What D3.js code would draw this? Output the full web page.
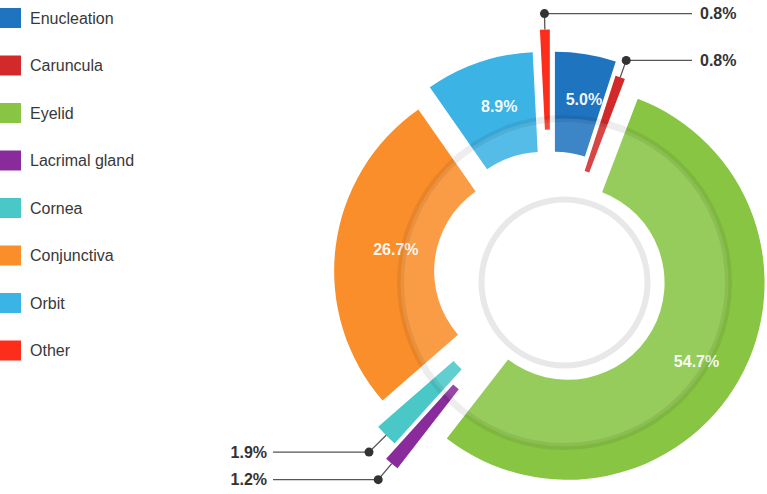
<!DOCTYPE html>
<meta charset="utf-8">
<style>
  body { margin: 0; background: #fff; }
  text { font-family: "Liberation Sans", Arial, sans-serif; }
</style>
<body>
<script src="https://cdn.jsdelivr.net/npm/d3@7"></script>
<script>

const categories = ["Enucleation", "Caruncula", "Eyelid", "Lacrimal gland", "Cornea", "Conjunctiva", "Orbit", "Other"];
const values = [5.0, 0.8, 54.7, 1.2, 1.9, 26.7, 8.9, 0.8];
const colors = ["#1f74c0", "#d22a2a", "#87c543", "#892b9b", "#4ac8c8", "#fa8e2b", "#3cb3e5", "#fd2d1b"];

// how far each slice is pulled away from the middle (px)
const pullOut = [25, 11, 19, 51, 34, 20, 26, 47];
// label radius for the wide slices, leader length for the thin ones
const labelR = [152, 0, 151, 0, 0, 137, 149, 0];
const leaderLen = [0, 18, 0, 21, 24, 0, 0, 16];

const width = 767;
const height = 494;
const cx = 551, cy = 273.5;       // pie centre
const ringX = 564.5, ringY = 282.5; // decorative rings
const r0 = 97, r1 = 197;

const svg = d3.select("body").append("svg")
              .attr("width", width)
              .attr("height", height);

// legend
const legend = svg.append("g").attr("class", "legend")
                  .selectAll("g")
                  .data(categories)
                  .enter().append("g")
                  .attr("transform", (d, i) => `translate(0,${8 + i * 47.5})`);
legend.append("rect")
      .attr("width", 21).attr("height", 20)
      .attr("fill", (d, i) => colors[i]);
legend.append("text")
      .attr("x", 30).attr("y", 10).attr("dy", "0.35em")
      .attr("font-size", 16).attr("fill", "#383838")
      .text(d => d);

const pie = d3.pie().sort(null).value(d => d);
const arcs = pie(values);
const arc = d3.arc().innerRadius(r0).outerRadius(r1);

const unit = a => [Math.sin(a), -Math.cos(a)];
const mid = d => (d.startAngle + d.endAngle) / 2;

const chart = svg.append("g").attr("transform", `translate(${cx},${cy})`);

chart.append("g").attr("class", "slices")
     .selectAll("path")
     .data(arcs)
     .enter().append("path")
     .attr("d", arc)
     .attr("fill", (d, i) => colors[i])
     .attr("transform", (d, i) => {
       const u = unit(mid(d));
       return `translate(${u[0] * pullOut[i]},${u[1] * pullOut[i]})`;
     });

// translucent ring laid over the slices
svg.append("circle")
   .attr("cx", ringX).attr("cy", ringY).attr("r", 164)
   .attr("fill", "#fff").attr("fill-opacity", 0.13)
   .attr("stroke", "#000").attr("stroke-opacity", 0.07)
   .attr("stroke-width", 7);

svg.append("circle")
   .attr("cx", ringX).attr("cy", ringY).attr("r", 83)
   .attr("fill", "none")
   .attr("stroke", "#e8e8e8")
   .attr("stroke-width", 6);

// labels inside the big slices
const tilt = 2 * Math.PI / 180;
const inside = arcs.map((d, i) => ({d, i})).filter(o => values[o.i] >= 5);
chart.append("g").attr("class", "inner-labels")
     .selectAll("text")
     .data(inside)
     .enter().append("text")
     .attr("transform", o => {
       const u = unit(mid(o.d));
       const v = unit(mid(o.d) + tilt);
       const x = u[0] * pullOut[o.i] + v[0] * labelR[o.i];
       const y = u[1] * pullOut[o.i] + v[1] * labelR[o.i];
       return `translate(${x},${y})`;
     })
     .attr("dy", "0.35em")
     .attr("text-anchor", "middle")
     .attr("font-size", 16).attr("font-weight", "bold")
     .attr("fill", "#fff").attr("fill-opacity", 0.95)
     .text(o => values[o.i].toFixed(1) + "%");

// callouts for the thin slices
const outside = arcs.map((d, i) => ({d, i})).filter(o => values[o.i] < 5);
const callout = chart.append("g").attr("class", "callouts")
                     .selectAll("g")
                     .data(outside)
                     .enter().append("g");

callout.each(function(o) {
  const g = d3.select(this);
  const u = unit(mid(o.d));
  const t = pullOut[o.i] + r1;
  const tip = [u[0] * t, u[1] * t];
  const dot = [u[0] * (t + leaderLen[o.i]), u[1] * (t + leaderLen[o.i])];
  const right = u[0] > -0.1;
  const endX = right ? 692 - cx : 273 - cx;
  g.append("path")
   .attr("d", d3.line()([tip, dot, [endX, dot[1]]]))
   .attr("fill", "none").attr("stroke", "#555").attr("stroke-width", 1.3);
  g.append("circle")
   .attr("cx", dot[0]).attr("cy", dot[1]).attr("r", 4.5)
   .attr("fill", "#333");
  g.append("text")
   .attr("x", right ? endX + 8 : endX - 6)
   .attr("y", dot[1]).attr("dy", "0.35em")
   .attr("text-anchor", right ? "start" : "end")
   .attr("font-size", 16).attr("font-weight", "bold")
   .attr("fill", "#333")
   .text(values[o.i].toFixed(1) + "%");
});

</script>
